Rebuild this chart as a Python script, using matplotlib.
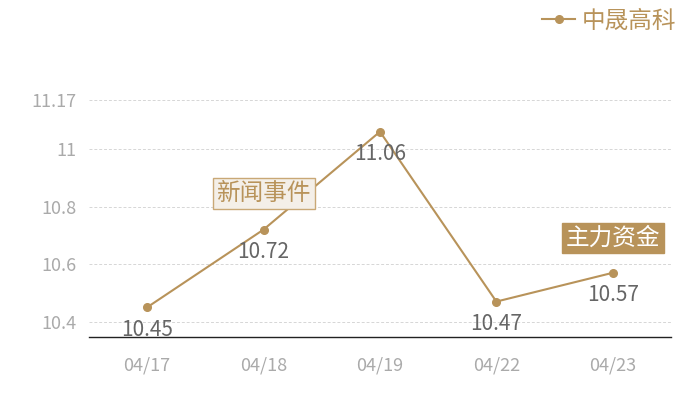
import matplotlib
matplotlib.use("Agg")
import matplotlib.pyplot as plt

plt.rcParams['font.family'] = ['Noto Sans CJK SC', 'DejaVu Sans']

# Data
dates = ['04/17', '04/18', '04/19', '04/22', '04/23']
prices = [10.45, 10.72, 11.06, 10.47, 10.57]
series_name = '中晟高科'
y_ticks = [10.4, 10.6, 10.8, 11, 11.17]
y_tick_labels = ['10.4', '10.6', '10.8', '11', '11.17']
news_label = '新闻事件'
fund_label = '主力资金'

gold = '#b8935a'

fig = plt.figure(figsize=(7, 4), dpi=100)
ax = fig.add_axes([0.127, 0.1575, 0.8316, 0.5925])

x = list(range(len(dates)))
ax.plot(x, prices, color=gold, lw=1.5, marker='o', ms=5.5, label=series_name)

for xi, v in zip(x, prices):
    ax.annotate(f'{v:.2f}', (xi, v), xytext=(0, -16), textcoords='offset points',
                ha='center', va='center', fontsize=15, color='#666666')

# Event boxes
ax.annotate(news_label, (1, prices[1]), xytext=(0, 26), textcoords='offset points',
            ha='center', va='center', fontsize=17, color=gold,
            bbox=dict(boxstyle='square,pad=0.16', fc='#f4efe8', ec='#c9a876', lw=1))
ax.annotate(fund_label, (4, prices[4]), xytext=(0, 25), textcoords='offset points',
            ha='center', va='center', fontsize=17, color='white',
            bbox=dict(boxstyle='square,pad=0.16', fc=gold, ec=gold, lw=1))

ax.set_xlim(-0.5, len(dates) - 0.5)
ax.set_ylim(10.347, 11.17)
ax.set_xticks(x)
ax.set_xticklabels(dates)
ax.set_yticks(y_ticks)
ax.set_yticklabels(y_tick_labels)
ax.tick_params(axis='both', length=0, labelsize=13, colors='#aaaaaa')
ax.tick_params(axis='x', pad=14)
ax.tick_params(axis='y', pad=9)

ax.grid(axis='y', color='#d6d6d6', ls=(0, (3, 2)), lw=0.7)
ax.set_axisbelow(True)
for s in ['top', 'right', 'left']:
    ax.spines[s].set_visible(False)
ax.spines['bottom'].set_color('#222222')
ax.spines['bottom'].set_linewidth(1)

leg = fig.legend(loc='upper right', bbox_to_anchor=(0.997, 1.03), frameon=False,
                 fontsize=17, handlelength=1.4, handletextpad=0.3)
for t in leg.get_texts():
    t.set_color(gold)

fig.savefig('out.png', dpi=100)
